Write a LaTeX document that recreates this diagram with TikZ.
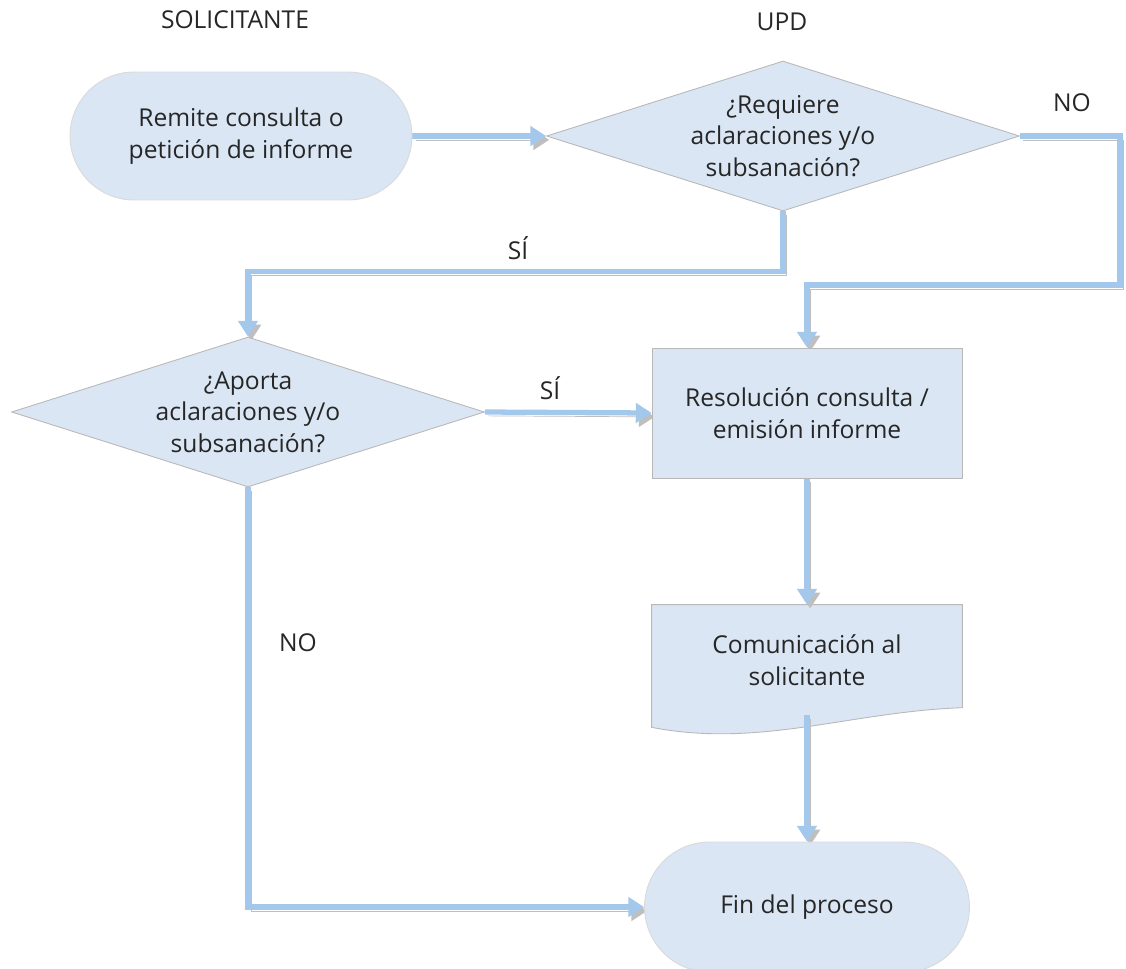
\documentclass[tikz,border=0pt]{standalone}
\usepackage{fontspec}
\setmainfont{Open Sans}
\usetikzlibrary{shapes.geometric,shapes.misc,backgrounds,calc}
\usetikzlibrary{arrows.meta}
\definecolor{cajaazul}{HTML}{DAE6F4}
\definecolor{flechaazul}{HTML}{A4C7EC}

\begin{document}
\begin{tikzpicture}[x=0.02cm, y=-0.02cm,
	font=\fontsize{14pt}{18pt}\selectfont, text=black!85,
	caja/.style={draw=black!28, line width=0.5pt, fill=cajaazul, align=center, inner sep=0pt},
	terminal/.style={caja, rounded rectangle, draw=black!15},
	decision/.style={caja, diamond, aspect=3.15, minimum width=9.46cm, minimum height=3cm},
	flujo/.style={draw=flechaazul, line width=3pt, -{Triangle[length=9pt,width=11pt]},
		preaction={draw=black!25, transform canvas={shift={(1.8pt,-2.2pt)}}}}]
	\useasboundingbox (0,0) rectangle (1126,968);
	% cabeceras
	\node (solicitante) at (235,20) {SOLICITANTE};
	\node (upd) at (782,22) {UPD};
	% nodos
	\node[terminal, minimum width=6.84cm, minimum height=2.56cm] (remite) at (241,136) {Remite consulta o\\petición de informe};
	\node[decision] (requiere) at (783,136) {¿Requiere\\aclaraciones y/o\\subsanación?};
	\node[decision] (aporta) at (248,412) {¿Aporta\\aclaraciones y/o\\subsanación?};
	\node[caja, minimum width=6.2cm, minimum height=2.6cm] (resol) at (807,413) {Resolución consulta /\\emisión informe};
	\node[align=center, minimum width=6.2cm, minimum height=2.2cm, inner sep=0pt] (comunica) at (807,660) {Comunicación al\\solicitante};
	\node[terminal, minimum width=6.5cm, minimum height=2.6cm] (fin) at (807,907) {Fin del proceso};
	% forma de documento
	\begin{scope}[on background layer]
		\draw[caja] (comunica.north west) -- (comunica.north east) -- ++(0,103)
			.. controls +(-112,4) and +(108,21) .. ($(comunica.south west)+(0,12)$) -- cycle;
	\end{scope}
	% etiquetas
	\node (no1) at (1072,103) {NO};
	\node (si1) at (518,248) {SÍ};
	\node (si2) at (550,388) {SÍ};
	\node (no2) at (298,643) {NO};
	\coordinate (codo) at (1120,285);
	% flechas
	\begin{scope}[on background layer]
		\draw[flujo] (remite.east) -- (requiere.west);
		\draw[flujo] (requiere.east) -| (codo) -| (resol.north);
		\draw[flujo] (requiere.south) -- ++(0,60) -| (aporta.north);
		\draw[flujo] (aporta.east) -- (resol.west);
		\draw[flujo] (resol.south) -- (comunica.north);
		\draw[flujo] (comunica.south) -- (fin.north);
		\draw[flujo] (aporta.south) |- (fin.west);
	\end{scope}
\end{tikzpicture}
\end{document}
